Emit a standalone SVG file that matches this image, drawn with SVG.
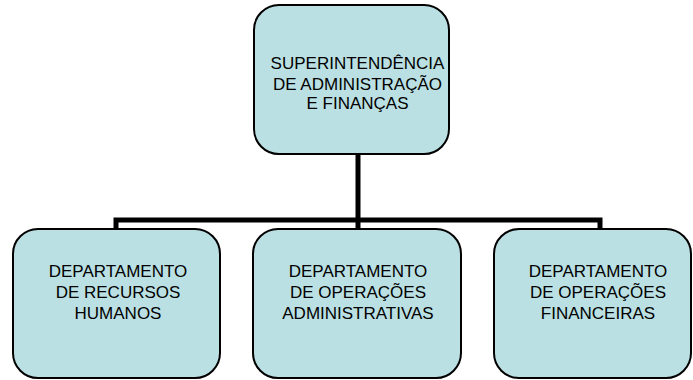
<svg xmlns="http://www.w3.org/2000/svg" width="693" height="380" viewBox="0 0 693 380">
<style>
.box{fill:#BBE0E3;stroke:#000;stroke-width:2}
.t{font-family:"Liberation Sans",Arial,sans-serif;font-size:17px;fill:#000;text-anchor:middle}
.c{fill:none;stroke:#000;stroke-width:5}
</style>
<rect width="693" height="380" fill="#fff"/>
<g id="connectors">
<line class="c" x1="358" y1="154" x2="358" y2="229"/>
<polyline class="c" points="116,229 116,220 600,220 600,229"/>
</g>
<g id="superintendencia">
<rect class="box" x="254" y="5" width="195" height="149" rx="25"/>
<text class="t" x="357.5" y="69">SUPERINTENDÊNCIA</text>
<text class="t" x="357.5" y="89.5">DE ADMINISTRAÇÃO</text>
<text class="t" x="357.5" y="109">E FINANÇAS</text>
</g>
<g id="recursos-humanos">
<rect class="box" x="13" y="229" width="207" height="149" rx="25"/>
<text class="t" x="118" y="277">DEPARTAMENTO</text>
<text class="t" x="118" y="298">DE RECURSOS</text>
<text class="t" x="118" y="319">HUMANOS</text>
</g>
<g id="operacoes-administrativas">
<rect class="box" x="253" y="229" width="208" height="149" rx="25"/>
<text class="t" x="358" y="277">DEPARTAMENTO</text>
<text class="t" x="358" y="298">DE OPERAÇÕES</text>
<text class="t" x="358" y="319">ADMINISTRATIVAS</text>
</g>
<g id="operacoes-financeiras">
<rect class="box" x="494" y="229" width="197" height="149" rx="25"/>
<text class="t" x="598" y="277">DEPARTAMENTO</text>
<text class="t" x="598" y="298">DE OPERAÇÕES</text>
<text class="t" x="598" y="319">FINANCEIRAS</text>
</g>
</svg>
